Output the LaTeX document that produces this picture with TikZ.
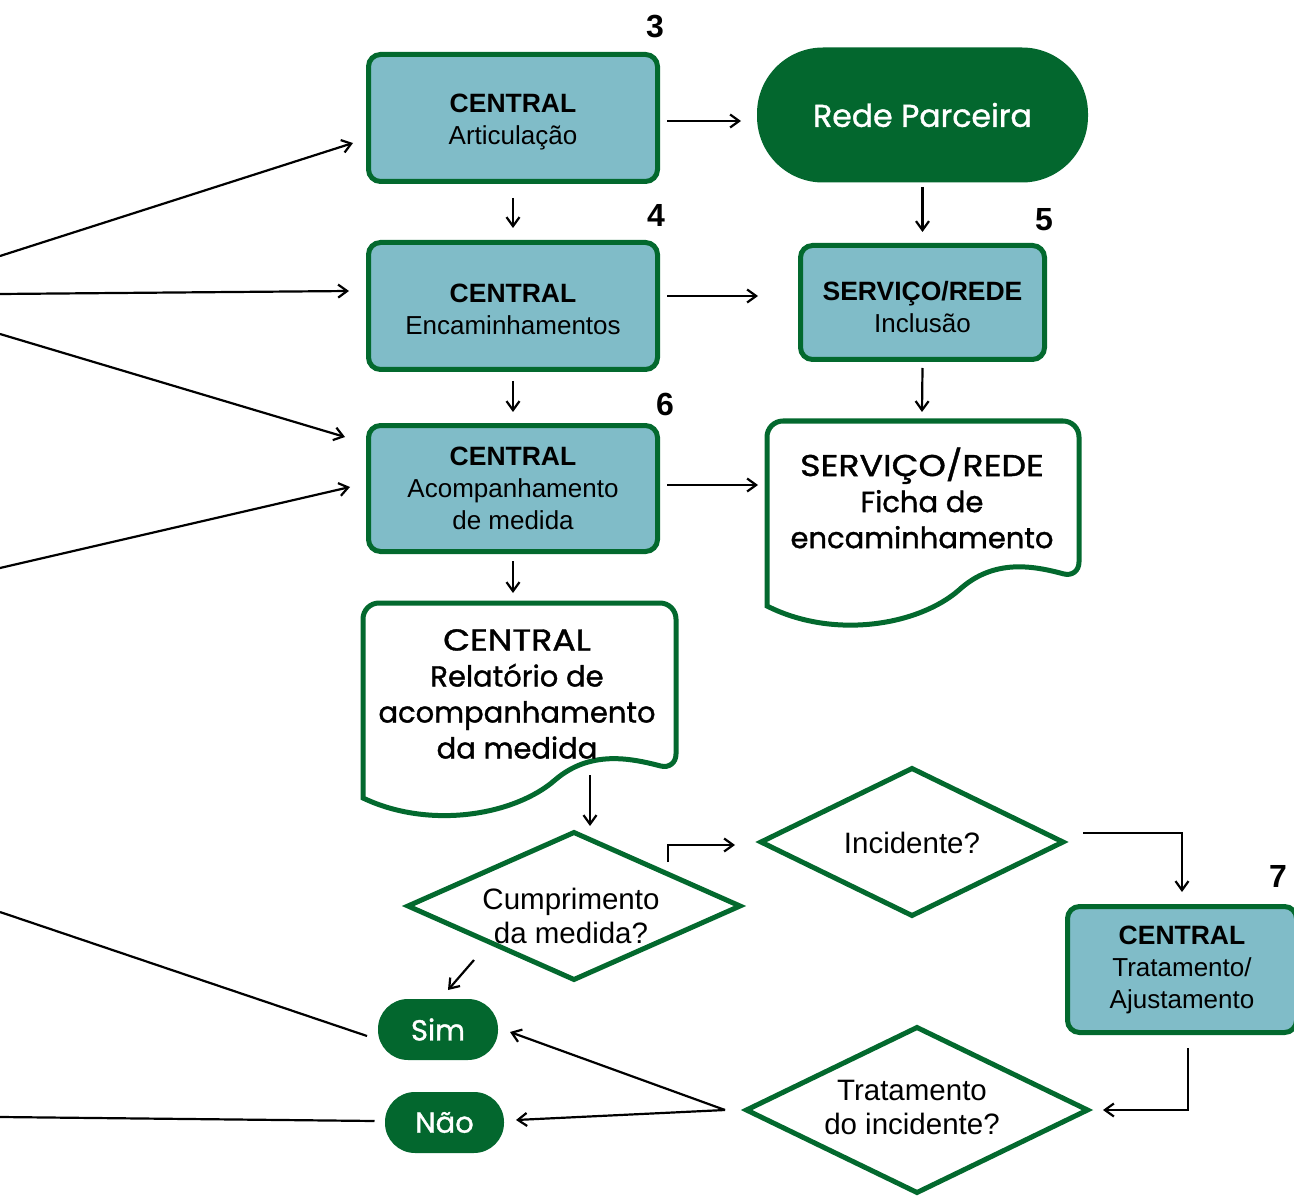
\documentclass[tikz,border=0pt]{standalone}
\usepackage{fontspec}
\setmainfont{Liberation Sans}
\newfontfamily\mont{Poppins}[FakeBold=1.2]
\usetikzlibrary{arrows.meta,calc,shapes.geometric}
\definecolor{gr}{RGB}{3,105,46}
\definecolor{dg}{RGB}{3,103,46}
\definecolor{bl}{RGB}{128,188,200}
\newcommand{\hd}[2][0pt]{{\rule{0pt}{#1}\bfseries\fontsize{26.5}{32}\selectfont #2}}
\newcommand{\wc}[1]{\scalebox{1.2}[1.04]{#1}}
\begin{document}
\begin{tikzpicture}[x=1pt,y=-1pt,
  box/.style={draw=gr, line width=5pt, fill=bl, rounded corners=12pt, inner sep=0pt, outer sep=0pt, align=center, font=\fontsize{26}{32}\selectfont},
  pill/.style={fill=dg, inner sep=0pt, outer sep=0pt, text=white, font=\mont\fontsize{29}{32}\selectfont},
  dia/.style={diamond, draw=gr, line width=5pt, fill=white, inner sep=0pt, outer sep=0pt},
  dtext/.style={align=center, font=\fontsize{29.5}{34}\selectfont, inner sep=0pt},
  doc/.style={draw=gr, line width=5pt, fill=white},
  doct/.style={align=center, font=\mont\fontsize{29}{36}\selectfont, inner sep=0pt},
  arr/.style={line width=2.2pt, -{Straight Barb[length=9pt,width=13pt]}},
  ln/.style={line width=2.2pt},
  num/.style={font=\bfseries\fontsize{32}{32}\selectfont, inner sep=0pt}
]
\useasboundingbox (0,0) rectangle (1294,1198);

% boxes
\node[box, minimum width=289pt, minimum height=127pt] (box3) at (513,118) {\hd[26pt]{CENTRAL}\\Articulação};
\node[box, minimum width=289pt, minimum height=127pt] (box4) at (513,306) {\hd[26pt]{CENTRAL}\\Encaminhamentos};
\node[box, minimum width=289pt, minimum height=126pt] (box6) at (513,488.5) {\hd{CENTRAL}\\Acompanhamento\\de medida};
\node[box, minimum width=244pt, minimum height=114pt] (box5) at (922.5,302.5) {\hd[29pt]{SERVIÇO/REDE}\\Inclusão};
\node[box, minimum width=229pt, minimum height=126pt] (box7) at (1182,969.5) {\hd{CENTRAL}\\Tratamento/\\Ajustamento};

% pills
\node[pill, rounded corners=66pt, minimum width=331pt, minimum height=135pt, font=\mont\fontsize{31.5}{34}\selectfont] (rede) at (922.5,115) {Rede Parceira};
\node[pill, rounded corners=30pt, minimum width=120pt, minimum height=61pt] (sim) at (438,1029.5) {Sim};
\node[pill, rounded corners=30pt, minimum width=119pt, minimum height=61pt] (nao) at (444.5,1122.5) {Não};

% numbers
\node[num] (n3) at (655,27) {3};
\node[num] (n4) at (656,215) {4};
\node[num] (n5) at (1044,220) {5};
\node[num] (n6) at (665,404) {6};
\node[num] (n7) at (1278,876) {7};

% documents
\draw[doc] (1079,578) .. controls (1034,566) and (994,558) .. (959,590)
  .. controls (919,625) and (834,640) .. (767,606)
  [rounded corners=16pt] -- (767,421) -- (1079,421) -- cycle;
\node[doct] (fichaT) at (922,498) {\wc{SERVIÇO/REDE}\\Ficha de\\encaminhamento};
\draw[doc] (676,770) .. controls (630,758) and (590,750) .. (555,780)
  .. controls (515,815) and (430,830) .. (363,798)
  [rounded corners=16pt] -- (363,603) -- (676,603) -- cycle;
\node[doct] (relT) at (517,694) {\wc{CENTRAL}\\Relatório de\\acompanhamento\\da medida};
\coordinate (fichaTop) at (922,421);
\coordinate (fichaW) at (767,485);
\coordinate (relTop) at (513,603);
\coordinate (relB) at (590,775);

% diamonds
\node[dia, minimum width=332pt, minimum height=147pt] (cum) at (574,906) {};
\node[dtext] (cumT) at (571,916) {Cumprimento\\da medida?};
\node[dia, minimum width=302pt, minimum height=147pt] (inc) at (912,842) {};
\node[dtext] (incT) at (912,843) {Incidente?};
\node[dia, minimum width=341pt, minimum height=165pt] (trat) at (917,1110) {};
\node[dtext] (tratT) at (912,1107) {Tratamento\\do incidente?};

% free ends
\coordinate (in1) at (0,256);
\coordinate (in2) at (0,294);
\coordinate (in3) at (0,334);
\coordinate (in4) at (0,568);
\coordinate (out1) at (0,912);
\coordinate (out2) at (0,1117);

% connectors
\draw[arr] ($(box3.east)+(9.5,3)$) -- ($(rede.west)+(-16,6)$);
\draw[arr] ($(box3.south)+(0,16.5)$) -- ($(box4.north)+(0,-14.5)$);
\draw[arr] ($(rede.south)+(0,4.5)$) -- ($(box5.north)+(0,-13.5)$);
\draw[arr] ($(box4.east)+(9.5,-10)$) -- ($(box5.west)+(-42.5,-6.5)$);
\draw[arr] ($(box4.south)+(0,11.5)$) -- ($(box6.north)+(0,-13.5)$);
\draw[arr] ($(box5.south)+(0,8.5)$) -- ($(fichaTop)+(0,-9)$);
\draw[arr] ($(box6.east)+(9.5,-3.5)$) -- ($(fichaW)+(-9,0)$);
\draw[arr] ($(box6.south)+(0,9.5)$) -- ($(relTop)+(0,-10)$);
\draw[arr] (relB) -- ($(cum.north)+(16,-6.5)$);
\draw[arr] ($(cum.north)+(94,29.5)$) |- ($(inc.west)+(-26,3)$);
\draw[arr] ($(inc.east)+(20,-9)$) -| ($(box7.north)+(0,-14.5)$);
\draw[arr] ($(box7.south)+(6,15.5)$) |- ($(trat.east)+(15.5,0)$);
\draw[arr] ($(trat.west)+(-21.5,0)$) -- ($(sim.east)+(12,2.5)$);
\draw[arr] ($(trat.west)+(-21.5,0)$) -- ($(nao.east)+(12,-2.5)$);
\draw[arr] ($(cum.center)+(-100,54)$) -- ($(sim.north)+(10,-9)$);

\draw[arr] (in1) -- ($(box3.west)+(-15.5,25)$);
\draw[arr] (in2) -- ($(box4.west)+(-19.5,-15)$);
\draw[arr] (in3) -- ($(box6.west)+(-23.5,-51.5)$);
\draw[arr] (in4) -- ($(box6.west)+(-18.5,-1.5)$);
\draw[ln] ($(sim.west)+(-11,6.5)$) -- (out1);
\draw[ln] ($(nao.west)+(-10.5,-1.5)$) -- (out2);
\end{tikzpicture}
\end{document}
